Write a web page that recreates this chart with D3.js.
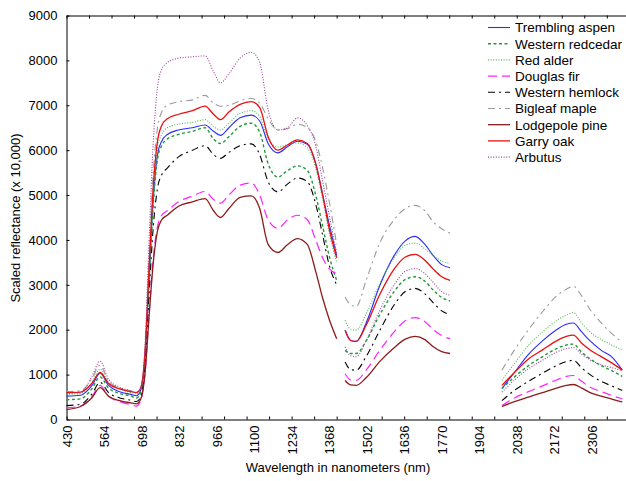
<!DOCTYPE html>
<meta charset="utf-8">
<style>
    body { margin: 0; background: #fff; }
    text { font-family: Arial, "Liberation Sans", sans-serif; fill: #000; }
    .line { fill: none; }
    .axis path, .axis line { stroke: #000; }
</style>

<svg width="626" height="481"></svg>

<script src="https://cdn.jsdelivr.net/npm/d3@7"></script>
<script>
    // wavelengths (nm); null rows are the removed water bands
    var wavelengths = [430, 480, 520, 550, 580, 620, 660, 680, 695, 710, 725, 740, 755, 770,
        790, 830, 880, 925, 955, 980, 1010, 1050, 1090, 1120, 1150, 1185, 1220, 1255, 1290,
        1320, 1345, 1370, 1395,
        1410,
        1425, 1445, 1465, 1500, 1550, 1600, 1640, 1675, 1710, 1740, 1770, 1800,
        1890,
        1985, 2030, 2080, 2130, 2180, 2215, 2240, 2270, 2300, 2340, 2380, 2415];

    var xLabels = [430, 564, 698, 832, 966, 1100, 1234, 1368, 1502, 1636, 1770, 1904, 2038, 2172, 2306];
    var yLabels = [0, 1000, 2000, 3000, 4000, 5000, 6000, 7000, 8000, 9000];

    var species = ["Trembling aspen", "Western redcedar", "Red alder", "Douglas fir",
        "Western hemlock", "Bigleaf maple", "Lodgepole pine", "Garry oak", "Arbutus"];

    var tremblingAspen = [520, 540, 750, 1030, 760, 620, 560, 530, 650, 1350, 3200, 4900, 5900, 6200,
        6350, 6450, 6500, 6560, 6420, 6330, 6500, 6720, 6780, 6650, 6150, 5940, 6080, 6200, 6130, 5700, 5000, 4300, 3650,
        null,
        1990, 1760, 1740, 2150, 3000, 3650, 3980, 4080, 3900, 3650, 3450, 3380,
        null,
        690, 1050, 1450, 1750, 2000, 2120, 2150, 1950, 1750, 1540, 1380, 1100];
    var westernRedcedar = [440, 460, 680, 950, 700, 580, 520, 480, 600, 1300, 3100, 4800, 5800, 6100,
        6250, 6350, 6420, 6500, 6250, 6150, 6300, 6530, 6600, 6400, 5700, 5400, 5550, 5650, 5550, 5000, 4300, 3600, 3100,
        null,
        1540, 1470, 1470, 1750, 2350, 2850, 3120, 3180, 3080, 2880, 2720, 2640,
        null,
        690, 950, 1200, 1400, 1580, 1660, 1680, 1500, 1350, 1200, 1080, 960];
    var redAlder = [560, 580, 820, 1120, 820, 680, 600, 570, 680, 1400, 3300, 5000, 6050, 6350,
        6500, 6580, 6620, 6680, 6520, 6450, 6600, 6820, 6880, 6750, 6250, 6070, 6120, 6160, 6050, 5600, 4900, 4100, 3500,
        null,
        2210, 2010, 1990, 2350, 3050, 3600, 3880, 3930, 3800, 3650, 3530, 3480,
        null,
        870, 1250, 1650, 1950, 2200, 2330, 2380, 2150, 1950, 1780, 1650, 1550];
    var douglasFir = [260, 300, 500, 760, 520, 400, 330, 300, 420, 1000, 2350, 3600, 4300, 4550,
        4650, 4850, 4980, 5080, 4900, 4820, 5000, 5220, 5270, 5000, 4450, 4260, 4450, 4550, 4450, 4000, 3600, 3350, 3250,
        null,
        1020, 880, 870, 1100, 1550, 1950, 2200, 2270, 2180, 2000, 1870, 1800,
        null,
        310, 480, 620, 750, 880, 960, 980, 850, 720, 620, 530, 460];
    var westernHemlock = [310, 340, 560, 830, 600, 480, 430, 400, 500, 1150, 2800, 4300, 5150, 5450,
        5600, 5850, 6000, 6100, 5900, 5820, 5950, 6100, 6140, 5900, 5300, 5070, 5250, 5380, 5300, 4800, 4100, 3400, 3000,
        null,
        1280, 1110, 1100, 1400, 2000, 2550, 2850, 2920, 2800, 2600, 2420, 2340,
        null,
        420, 650, 850, 1030, 1200, 1290, 1320, 1150, 1000, 850, 740, 650];
    var bigleafMaple = [620, 640, 900, 1210, 850, 700, 640, 610, 700, 1500, 3600, 5500, 6500, 6850,
        7000, 7080, 7120, 7220, 7050, 6980, 7000, 7100, 7150, 7050, 6700, 6450, 6480, 6580, 6500, 6200, 5600, 4800, 3900,
        null,
        2730, 2550, 2520, 3100, 3950, 4450, 4700, 4770, 4650, 4400, 4250, 4150,
        null,
        1100, 1550, 2000, 2400, 2750, 2900, 2970, 2750, 2450, 2150, 1900, 1720];
    var lodgepolePine = [220, 290, 480, 710, 520, 420, 370, 350, 450, 1000, 2300, 3500, 4200, 4450,
        4550, 4750, 4850, 4920, 4650, 4500, 4700, 4950, 4980, 4700, 3900, 3720, 3900, 4030, 3900, 3300, 2700, 2200, 1800,
        null,
        870, 770, 760, 930, 1300, 1600, 1790, 1850, 1780, 1620, 1510, 1470,
        null,
        290, 400, 500, 600, 700, 760, 780, 700, 600, 520, 450, 390];
    var garryOak = [600, 610, 800, 1050, 800, 680, 620, 600, 700, 1450, 3400, 5200, 6200, 6550,
        6700, 6800, 6880, 6980, 6800, 6680, 6850, 7020, 7080, 6950, 6300, 6000, 6120, 6230, 6150, 5700, 5000, 4200, 3600,
        null,
        1990, 1760, 1740, 2100, 2800, 3350, 3620, 3680, 3550, 3350, 3180, 3100,
        null,
        760, 1050, 1350, 1550, 1750, 1850, 1880, 1700, 1550, 1400, 1250, 1100];
    var arbutus = [580, 600, 950, 1300, 900, 720, 640, 600, 700, 1600, 4000, 6200, 7400, 7800,
        7950, 8050, 8080, 8100, 7750, 7500, 7700, 8050, 8180, 7950, 6900, 6450, 6500, 6720, 6550, 6100, 5300, 4500, 3700,
        null,
        1620, 1420, 1400, 1750, 2450, 3000, 3300, 3360, 3250, 3050, 2850, 2770,
        null,
        610, 880, 1130, 1320, 1500, 1580, 1600, 1450, 1330, 1220, 1150, 1090];

    (function () {
        var svg = d3.select("svg"),
            left = 66.5, right = 626.5, top = 15.5, bottom = 419.5;

        var x = d3.scaleLinear().domain([430, 2430]).range([left, right]),
            y = d3.scaleLinear().domain([0, 9000]).range([bottom, top]);

        var series = [
            {name: species[0], values: tremblingAspen, color: "#2b2bff", dash: null, w: 1.1},
            {name: species[1], values: westernRedcedar, color: "#1f9a3a", dash: "3,2.5", w: 1.4},
            {name: species[2], values: redAlder, color: "#4fb84f", dash: "1,1.6", w: 1.1},
            {name: species[3], values: douglasFir, color: "#ff22ff", dash: "9,5", w: 1.2},
            {name: species[4], values: westernHemlock, color: "#000", dash: "7,4,2,4", w: 1.1},
            {name: species[5], values: bigleafMaple, color: "#9a9a9a", dash: "7,4,2,4", w: 1.1},
            {name: species[6], values: lodgepolePine, color: "#8b1c1c", dash: null, w: 1.3},
            {name: species[7], values: garryOak, color: "#e81010", dash: null, w: 1.3},
            {name: species[8], values: arbutus, color: "#9b3f9b", dash: "1,1.6", w: 1.1}
        ];

        var line = d3.line()
            .defined(function (d) { return d[1] != null; })
            .x(function (d) { return x(d[0]); })
            .y(function (d) { return y(d[1]); })
            .curve(d3.curveMonotoneX);

        var minorTicks = d3.range(430, 2430, 80.4);

        // bottom axis: inward ticks + rotated labels
        svg.append("g")
            .attr("class", "axis")
            .attr("transform", "translate(0," + bottom + ")")
            .call(d3.axisBottom(x).tickValues(minorTicks).tickSizeInner(-3).tickSizeOuter(0).tickFormat(""));

        var xl = svg.append("g")
            .attr("transform", "translate(0," + bottom + ")")
            .call(d3.axisBottom(x).tickValues(xLabels).tickSize(0).tickFormat(d3.format("d")));
        xl.select(".domain").remove();
        xl.selectAll("text")
            .attr("transform", "rotate(-90)")
            .attr("x", -6)
            .attr("y", 0)
            .attr("dy", "0.36em")
            .style("text-anchor", "end")
            .style("font-size", "13px")
            .style("font-family", "Arial, 'Liberation Sans', sans-serif");

        // top frame
        svg.append("g")
            .attr("class", "axis")
            .attr("transform", "translate(0," + top + ")")
            .call(d3.axisTop(x).tickValues(minorTicks).tickSizeInner(-3).tickSizeOuter(0).tickFormat(""));

        // left axis
        var yl = svg.append("g")
            .attr("class", "axis")
            .attr("transform", "translate(" + left + ",0)")
            .call(d3.axisLeft(y).tickValues(yLabels).tickSizeInner(-3).tickSizeOuter(0)
                .tickPadding(9).tickFormat(d3.format("d")));
        yl.selectAll("text")
            .style("font-size", "13px")
            .style("font-family", "Arial, 'Liberation Sans', sans-serif");

        // curves
        svg.append("g")
            .selectAll("path")
            .data(series)
            .enter()
            .append("path")
            .attr("class", "line")
            .attr("d", function (s) {
                return line(wavelengths.map(function (w, i) { return [w, s.values[i]]; }));
            })
            .attr("stroke", function (s) { return s.color; })
            .attr("stroke-width", function (s) { return s.w; })
            .attr("stroke-dasharray", function (s) { return s.dash; });

        // legend
        var lg = svg.append("g")
            .selectAll("g")
            .data(series)
            .enter()
            .append("g")
            .attr("transform", function (d, i) { return "translate(488," + (27.5 + i * 16.2) + ")"; });

        lg.append("line")
            .attr("x1", 0)
            .attr("x2", 22)
            .attr("stroke", function (s) { return s.color; })
            .attr("stroke-width", function (s) { return s.w; })
            .attr("stroke-dasharray", function (s) { return s.dash; });

        lg.append("text")
            .attr("x", 27)
            .attr("dy", "0.36em")
            .style("font-size", "13.5px")
            .text(function (s) { return s.name; });

        // titles
        svg.append("text")
            .attr("transform", "translate(15,218) rotate(-90)")
            .attr("text-anchor", "middle")
            .attr("dy", "0.35em")
            .style("font-size", "13px")
            .text("Scaled reflectance (x 10,000)");

        svg.append("text")
            .attr("x", 338)
            .attr("y", 472)
            .attr("text-anchor", "middle")
            .style("font-size", "13px")
            .text("Wavelength in nanometers (nm)");
    })();
</script>
